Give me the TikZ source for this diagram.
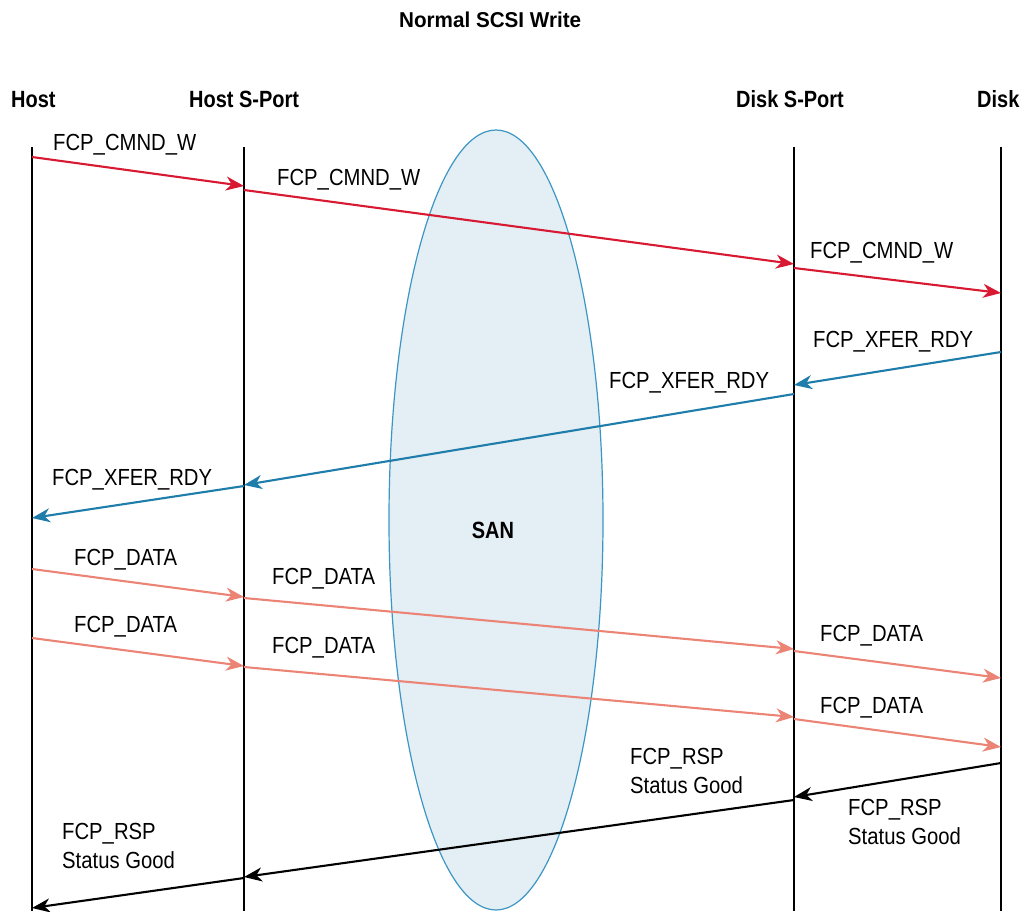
\documentclass[tikz,border=0pt]{standalone}
\usepackage{fontspec}
\setmainfont{Liberation Sans}
\newfontfamily\labfont[FakeStretch=0.87]{Liberation Sans}
\newfontfamily\hdrfont[FakeStretch=0.85]{Liberation Sans}
\newfontfamily\ttlfont[FakeStretch=0.96]{Liberation Sans}
\usetikzlibrary{arrows.meta}
\definecolor{cmdred}{RGB}{215,25,50}
\definecolor{rdyblue}{RGB}{30,125,170}
\definecolor{datasalmon}{RGB}{236,132,118}
\definecolor{sanfill}{RGB}{228,238,245}
\definecolor{sanline}{RGB}{60,150,195}
\tikzset{
  lifeline/.style={line width=2pt, black},
  msg/.style={line width=2.1pt, -{Stealth[length=18pt,width=14pt,inset=5.5pt]}},
  lbl/.style={anchor=base west, inner sep=0pt, font=\labfont\fontsize{23.3}{29}\selectfont},
  lbltwo/.style={anchor=north west, inner sep=0pt, align=left, font=\labfont\fontsize{23.3}{29}\selectfont},
  hdr/.style={anchor=base west, inner sep=0pt, font=\hdrfont\bfseries\fontsize{23.5}{28}\selectfont},
}
\begin{document}
\begin{tikzpicture}[x=1pt,y=-1pt]
\useasboundingbox (0,0) rectangle (1026,911);
\begin{scope}
\clip (0,0) rectangle (1026,911);
\draw[line width=1.2pt, sanline, fill=sanfill] (496,520) ellipse [x radius=107, y radius=390];
\end{scope}
\node[anchor=base, inner sep=0pt, font=\hdrfont\bfseries\fontsize{23.5}{28}\selectfont] (san) at (493,538) {SAN};

% title and headers
\node[anchor=base west, inner sep=0pt, font=\ttlfont\bfseries\fontsize{21.5}{26}\selectfont] (title) at (399,27) {Normal SCSI Write};
\node[hdr] (hHost) at (11,107) {Host};
\node[hdr] (hHS) at (189,107) {Host S-Port};
\node[hdr] (hDS) at (736,107) {Disk S-Port};
\node[hdr] (hDisk) at (977,107) {Disk};

% lifelines
\coordinate (Ht) at (32,147);  \coordinate (Hb) at (32,911);
\coordinate (HSt) at (244,147); \coordinate (HSb) at (244,911);
\coordinate (DSt) at (794,147); \coordinate (DSb) at (794,911);
\coordinate (Dt) at (1001,147); \coordinate (Db) at (1001,911);
\draw[lifeline] (Ht) -- (Hb);
\draw[lifeline] (HSt) -- (HSb);
\draw[lifeline] (DSt) -- (DSb);
\draw[lifeline] (Dt) -- (Db);

% message end points
\coordinate (a1) at (32,157);   \coordinate (b1) at (244,186);
\coordinate (a2) at (244,190);  \coordinate (b2) at (794,264);
\coordinate (a3) at (794,268);  \coordinate (b3) at (1001,293);
\coordinate (a4) at (1001,352); \coordinate (b4) at (794,385);
\coordinate (a5) at (794,394);  \coordinate (b5) at (244,485);
\coordinate (a6) at (244,486);  \coordinate (b6) at (32,518);
\coordinate (a7) at (32,569);   \coordinate (b7) at (244,597);
\coordinate (a8) at (244,598);  \coordinate (b8) at (794,649);
\coordinate (a9) at (794,651);  \coordinate (b9) at (1001,678);
\coordinate (a10) at (32,638);  \coordinate (b10) at (244,666);
\coordinate (a11) at (244,667); \coordinate (b11) at (794,717);
\coordinate (a12) at (794,719); \coordinate (b12) at (1001,747);
\coordinate (a13) at (1001,763);\coordinate (b13) at (794,797);
\coordinate (a14) at (794,800); \coordinate (b14) at (244,877);
\coordinate (a15) at (244,878); \coordinate (b15) at (32,908);

\draw[msg, cmdred] (a1) -- (b1);
\draw[msg, cmdred] (a2) -- (b2);
\draw[msg, cmdred] (a3) -- (b3);
\draw[msg, rdyblue] (a4) -- (b4);
\draw[msg, rdyblue] (a5) -- (b5);
\draw[msg, rdyblue] (a6) -- (b6);
\draw[msg, datasalmon] (a7) -- (b7);
\draw[msg, datasalmon] (a8) -- (b8);
\draw[msg, datasalmon] (a9) -- (b9);
\draw[msg, datasalmon] (a10) -- (b10);
\draw[msg, datasalmon] (a11) -- (b11);
\draw[msg, datasalmon] (a12) -- (b12);
\draw[msg, black] (a13) -- (b13);
\draw[msg, black] (a14) -- (b14);
\draw[msg, black] (a15) -- (b15);

% labels
\node[lbl] (l1) at (53,150) {FCP\_CMND\_W};
\node[lbl] (l2) at (277,185) {FCP\_CMND\_W};
\node[lbl] (l3) at (810,258) {FCP\_CMND\_W};
\node[lbl] (l4) at (813,347) {FCP\_XFER\_RDY};
\node[lbl] (l5) at (609,388) {FCP\_XFER\_RDY};
\node[lbl] (l6) at (52,485) {FCP\_XFER\_RDY};
\node[lbl] (l7) at (74,565) {FCP\_DATA};
\node[lbl] (l8) at (272,584) {FCP\_DATA};
\node[lbl] (l9) at (820,641) {FCP\_DATA};
\node[lbl] (l10) at (74,632) {FCP\_DATA};
\node[lbl] (l11) at (272,653) {FCP\_DATA};
\node[lbl] (l12) at (820,713) {FCP\_DATA};
\node[lbltwo] (l13) at (848,799.5) {FCP\_RSP\\Status Good};
\node[lbltwo] (l14) at (630,748.5) {FCP\_RSP\\Status Good};
\node[lbltwo] (l15) at (62,823.5) {FCP\_RSP\\Status Good};
\end{tikzpicture}
\end{document}
